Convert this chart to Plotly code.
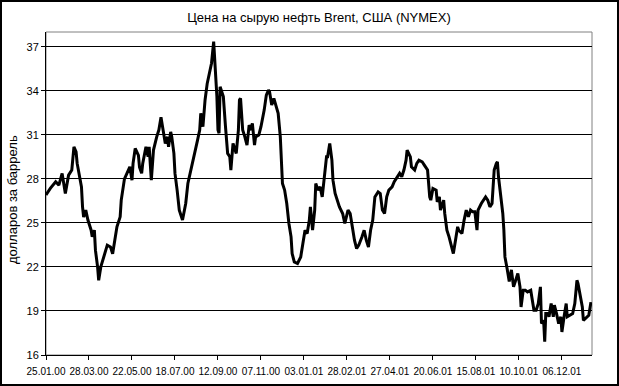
import plotly.graph_objects as go

# trading-day index and Brent price, USD per barrel
day_idx = [0, 4, 9, 12, 15, 18, 21, 24, 26, 28, 29, 32, 33, 34, 35, 37, 39, 42, 43, 45,
           46, 48, 49, 51, 54, 57, 60, 62, 64, 66, 69, 70, 73, 76, 78, 80, 81, 83, 86, 87,
           89, 90, 93, 95, 96, 98, 100, 103, 105, 107, 109, 111, 113, 114, 116, 117, 119, 120, 122, 124,
           127, 130, 132, 135, 138, 141, 143, 144, 146, 148, 150, 152, 154, 156, 157, 159, 160, 161, 162, 165,
           167, 169, 171, 172, 174, 177, 179, 180, 181, 183, 185, 187, 189, 191, 192, 194, 195, 198, 200, 203,
           205, 207, 208, 210, 212, 214, 216, 218, 219, 220, 222, 224, 226, 228, 229, 231, 234, 237, 239, 241,
           243, 245, 246, 248, 250, 251, 253, 255, 257, 259, 261, 262, 264, 266, 267, 269, 271, 273, 276, 278,
           281, 283, 285, 287, 289, 291, 294, 296, 298, 300, 302, 304, 306, 309, 311, 313, 315, 317, 319, 322,
           324, 326, 329, 331, 333, 335, 336, 339, 340, 343, 345, 347, 350, 352, 355, 357, 358, 360, 363, 364,
           366, 367, 370, 371, 373, 375, 377, 379, 381, 383, 384, 387, 389, 391, 393, 395, 397, 399, 401, 402,
           405, 407, 409, 411, 413, 415, 417, 419, 420, 421, 423, 425, 426, 427, 429, 431, 433, 435, 437, 439,
           441, 442, 444, 446, 448, 451, 452, 454, 456, 458, 460, 461, 463, 464, 465, 467, 468, 470, 472, 473,
           475, 477, 479, 480, 482, 484, 485, 487, 490, 492, 494, 495, 497, 499, 500, 503, 505, 507]
price = [26.9, 27.35, 27.8, 27.57, 28.37, 27.0, 28.25, 28.6, 30.18, 29.84, 29.05, 28.0, 27.45, 26.09, 25.4, 25.87, 25.19, 24.5, 24.05, 24.5,
         23.14, 22.0, 21.09, 22.0, 22.68, 23.48, 23.36, 22.9, 23.82, 24.73, 25.41, 26.55, 28.0, 28.48, 28.82, 27.91, 29.05, 30.07, 29.6, 28.8,
         28.37, 29.05, 30.18, 29.5, 30.18, 27.91, 29.96, 30.86, 31.32, 32.19, 31.32, 30.41, 30.86, 30.18, 31.2, 30.86, 29.73, 28.37, 27.23, 25.87,
         25.19, 26.32, 27.68, 28.6, 29.73, 30.64, 31.32, 32.46, 31.55, 33.37, 34.5, 35.19, 35.87, 37.34, 36.1, 33.6, 31.32, 31.1, 34.27, 33.6,
         31.55, 29.73, 29.5, 28.6, 30.41, 29.73, 31.32, 33.37, 33.48, 31.32, 30.86, 30.3, 31.66, 31.32, 31.78, 30.3, 30.86, 30.98, 31.55, 32.68,
         33.7, 34.05, 33.93, 33.03, 33.48, 33.03, 32.46, 30.86, 29.05, 27.68, 27.23, 26.32, 24.96, 24.05, 22.91, 22.34, 22.23, 22.68, 23.59, 24.5,
         24.27, 25.19, 26.09, 24.5, 25.87, 27.68, 27.23, 27.45, 26.77, 28.37, 29.5, 29.5, 30.41, 29.27, 27.91, 27.0, 26.55, 26.09, 25.64, 24.96,
         25.87, 25.64, 24.73, 23.82, 23.25, 23.48, 24.05, 24.5, 23.82, 23.36, 24.5, 25.19, 26.77, 27.11, 27.0, 25.87, 25.64, 26.77, 27.23, 27.45,
         27.8, 28.02, 28.37, 28.14, 28.6, 29.27, 29.96, 29.5, 28.82, 28.6, 29.05, 29.27, 29.16, 28.93, 28.6, 26.77, 26.55, 27.34, 27.23, 26.43,
         26.77, 25.87, 26.55, 25.64, 24.5, 24.05, 23.48, 22.91, 23.82, 24.73, 24.5, 24.27, 25.19, 25.87, 25.41, 25.87, 25.75, 25.75, 24.5, 25.87,
         26.32, 26.55, 26.77, 26.55, 26.09, 26.32, 28.6, 29.05, 29.16, 28.14, 27.0, 25.64, 24.5, 22.68, 21.89, 21.0, 21.8, 20.64, 21.09, 21.55,
         20.64, 19.27, 20.41, 20.41, 20.3, 20.41, 19.95, 19.05, 19.05, 19.5, 20.64, 18.14, 18.36, 16.9, 18.82, 18.82, 18.6, 19.5, 18.6, 19.39,
         18.82, 18.14, 18.6, 17.57, 18.6, 19.5, 18.6, 18.7, 18.82, 19.5, 21.09, 20.86, 19.95, 19.27, 18.36, 18.6, 18.7, 19.6]

tick_idx = [0, 40, 80, 120, 160, 200, 240, 280, 320, 360, 400, 440, 480]
tick_labels = ["25.01.00", "28.03.00", "22.05.00", "18.07.00", "12.09.00", "07.11.00", "03.01.01",
               "28.02.01", "27.04.01", "20.06.01", "15.08.01", "10.10.01", "06.12.01"]
y_ticks = [16, 19, 22, 25, 28, 31, 34, 37]

W, H = 619, 386
ML, MR, MT, MB = 46, 27, 32, 31
pw, ph = W - ML - MR, H - MT - MB

fig = go.Figure()
fig.add_trace(go.Scatter(x=day_idx, y=price, mode="lines",
                         line=dict(color="black", width=3), showlegend=False,
                         hoverinfo="skip"))

font = "Liberation Sans, Arial, sans-serif"
fig.update_layout(
    width=W, height=H,
    margin=dict(l=ML, r=MR, t=MT, b=MB, autoexpand=False),
    paper_bgcolor="white", plot_bgcolor="white",
    font=dict(family=font, color="black", size=12),
    title=dict(text="Цена на сырую нефть Brent, США (NYMEX)", x=0.5, xref="paper",
               xanchor="center", y=1 - 17 / H, yanchor="middle",
               font=dict(family=font, size=13, color="black")),
    xaxis=dict(range=[0, 508], tickvals=tick_idx, ticktext=tick_labels,
               showgrid=False, zeroline=False, showline=True, linecolor="black",
               linewidth=1, ticks="outside", ticklen=4, tickcolor="black",
               tickfont=dict(size=10), tickangle=0, automargin=False,
               ticklabelstandoff=3),
    yaxis=dict(range=[16, 38], tickvals=y_ticks, showgrid=True, gridcolor="black",
               gridwidth=1, zeroline=False, showline=True, linecolor="black",
               linewidth=1, ticks="outside", ticklen=4, tickcolor="black",
               tickfont=dict(size=11), automargin=False),
    annotations=[dict(text="долларов за баррель", xref="paper", yref="paper",
                      x=-34 / pw, y=(355 - 200) / ph, xanchor="center", yanchor="middle",
                      textangle=-90, showarrow=False, font=dict(size=13, color="black"))],
    shapes=[
        dict(type="rect", xref="paper", yref="paper", x0=0, y0=0, x1=1, y1=1,
             line=dict(color="#808080", width=1), layer="below"),
        dict(type="rect", xref="paper", yref="paper",
             x0=-(ML - 1) / pw, y0=-(MB - 1) / ph, x1=1 + (MR - 1) / pw, y1=1 + (MT - 1) / ph,
             line=dict(color="black", width=2), layer="above"),
    ],
)

fig.write_html("out.html", config={"displayModeBar": False},
               post_script="document.body.style.margin='0';document.body.style.overflow='hidden';")
